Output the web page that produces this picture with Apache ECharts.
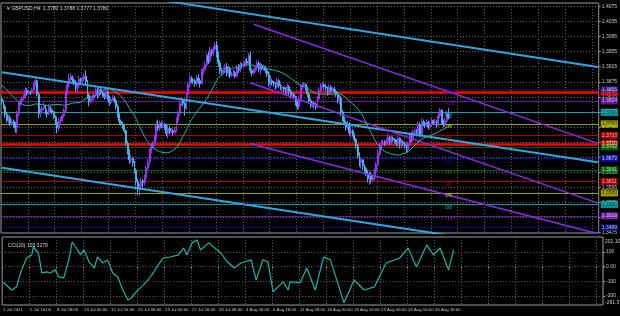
<!DOCTYPE html>
<html><head><meta charset="utf-8">
<script src="https://cdn.jsdelivr.net/npm/echarts@6/dist/echarts.min.js"></script>
<style>html,body{margin:0;padding:0;background:#000;}#c{width:620px;height:316px;}</style>
</head><body><div id="c"></div>
<script>
const chartTitle = 'GBPUSD,H4  1.3780 1.3788 1.3777 1.3780';
const cciTitle = 'CCI(20) 103.3279';
const dateLabels = ['1 Jul 2021','5 Jul 16:00','8 Jul 08:00','13 Jul 00:00','15 Jul 16:00','20 Jul 08:00','23 Jul 00:00','27 Jul 16:00','30 Jul 08:00','4 Aug 00:00','6 Aug 16:00','11 Aug 08:00','16 Aug 00:00','18 Aug 16:00','23 Aug 08:00','26 Aug 00:00','30 Aug 16:00'];
const priceTicks = [1.3475,1.3515,1.3555,1.3595,1.3635,1.3675,1.3715,1.3755,1.3795,1.3835,1.3875,1.3915,1.3955,1.3995,1.4035,1.4075];
const cciTicks = [-200,-100,0,100];
const cciRange = [-261.372, 202.1033];
const priceRange = [1.3474, 1.4084];

// lookback closes (end of June) used only for the moving average
const lookClose = [1.3925,1.3915, 1.3905,1.3898,1.3890,1.3885,1.3880,1.3882, 1.3890,1.3905,1.3918,1.3900,1.3895,1.3888, 1.3880,1.3868,1.3850,1.3825,1.3830,1.3832, 1.3838,1.3842,1.3820,1.3805,1.3825,1.3830];

const closes = [
1.3822,1.3810,1.3788,1.3772,1.3780,1.3765, 1.3770,1.3762,1.3752,1.3790,1.3815,1.3822,
1.3830,1.3838,1.3852,1.3845,1.3848,1.3846, 1.3852,1.3868,1.3878,1.3842,1.3790,1.3798,
1.3805,1.3812,1.3795,1.3790,1.3808,1.3800, 1.3795,1.3782,1.3768,1.3752,1.3770,1.3775,
1.3785,1.3798,1.3845,1.3868,1.3885,1.3888, 1.3880,1.3872,1.3858,1.3865,1.3882,1.3875,
1.3882,1.3890,1.3875,1.3840,1.3822,1.3830, 1.3832,1.3840,1.3852,1.3838,1.3855,1.3846,
1.3840,1.3836,1.3848,1.3832,1.3820,1.3828, 1.3832,1.3825,1.3810,1.3788,1.3770,1.3764,
1.3758,1.3745,1.3712,1.3690,1.3668,1.3672, 1.3660,1.3640,1.3610,1.3590,1.3598,1.3612,
1.3608,1.3622,1.3645,1.3662,1.3690,1.3702, 1.3712,1.3728,1.3760,1.3752,1.3765,1.3758,
1.3762,1.3755,1.3738,1.3752,1.3742,1.3745, 1.3740,1.3748,1.3772,1.3790,1.3818,1.3825,
1.3818,1.3805,1.3842,1.3868,1.3885,1.3880, 1.3878,1.3870,1.3885,1.3878,1.3870,1.3902,
1.3908,1.3920,1.3945,1.3930,1.3958,1.3950, 1.3962,1.3972,1.3948,1.3925,1.3905,1.3900,
1.3905,1.3915,1.3898,1.3910,1.3892,1.3895, 1.3900,1.3890,1.3912,1.3905,1.3920,1.3918,
1.3922,1.3930,1.3925,1.3945,1.3905,1.3898, 1.3905,1.3912,1.3925,1.3908,1.3918,1.3912,
1.3915,1.3905,1.3895,1.3870,1.3878,1.3872, 1.3870,1.3862,1.3878,1.3865,1.3858,1.3860,
1.3855,1.3848,1.3862,1.3850,1.3838,1.3842, 1.3835,1.3820,1.3808,1.3830,1.3860,1.3865,
1.3868,1.3858,1.3842,1.3825,1.3812,1.3818, 1.3815,1.3808,1.3830,1.3852,1.3865,1.3868,
1.3862,1.3858,1.3845,1.3860,1.3852,1.3856, 1.3850,1.3842,1.3825,1.3832,1.3795,1.3778,
1.3768,1.3755,1.3762,1.3740,1.3745,1.3735, 1.3722,1.3705,1.3680,1.3660,1.3668,1.3652,
1.3645,1.3632,1.3618,1.3630,1.3615,1.3622, 1.3638,1.3655,1.3685,1.3702,1.3712,1.3715,
1.3712,1.3718,1.3728,1.3715,1.3725,1.3722, 1.3718,1.3712,1.3725,1.3708,1.3715,1.3712,
1.3705,1.3695,1.3710,1.3732,1.3722,1.3740, 1.3745,1.3738,1.3762,1.3735,1.3768,1.3765,
1.3760,1.3768,1.3755,1.3762,1.3772,1.3766, 1.3770,1.3760,1.3785,1.3800,1.3768,1.3762,
1.3772,1.3790,1.3780,1.3780];
const highs = [
1.3834,1.3826,1.3815,1.3795,1.3788,1.3785, 1.3776,1.3775,1.3768,1.3798,1.3822,1.3830,
1.3835,1.3842,1.3860,1.3858,1.3852,1.3852, 1.3858,1.3875,1.3888,1.3880,1.3846,1.3805,
1.3810,1.3820,1.3815,1.3802,1.3816,1.3812, 1.3804,1.3798,1.3786,1.3772,1.3778,1.3782,
1.3790,1.3805,1.3852,1.3875,1.3895,1.3898, 1.3892,1.3885,1.3878,1.3872,1.3890,1.3886,
1.3888,1.3898,1.3905,1.3880,1.3845,1.3838, 1.3840,1.3845,1.3860,1.3858,1.3862,1.3858,
1.3850,1.3845,1.3855,1.3852,1.3838,1.3834, 1.3840,1.3838,1.3830,1.3815,1.3792,1.3775,
1.3768,1.3762,1.3748,1.3718,1.3695,1.3680, 1.3676,1.3665,1.3645,1.3618,1.3605,1.3620,
1.3618,1.3628,1.3652,1.3670,1.3698,1.3710, 1.3718,1.3735,1.3770,1.3775,1.3772,1.3770,
1.3768,1.3766,1.3760,1.3760,1.3758,1.3752, 1.3750,1.3755,1.3780,1.3798,1.3825,1.3832,
1.3830,1.3825,1.3848,1.3875,1.3895,1.3890, 1.3885,1.3882,1.3892,1.3895,1.3885,1.3910,
1.3915,1.3928,1.3952,1.3955,1.3968,1.3962, 1.3970,1.3980,1.3983,1.3955,1.3932,1.3912,
1.3912,1.3922,1.3925,1.3918,1.3915,1.3902, 1.3906,1.3905,1.3920,1.3922,1.3928,1.3925,
1.3928,1.3936,1.3938,1.3952,1.3955,1.3910, 1.3910,1.3918,1.3932,1.3930,1.3925,1.3922,
1.3920,1.3918,1.3912,1.3902,1.3890,1.3882, 1.3878,1.3875,1.3885,1.3882,1.3870,1.3866,
1.3864,1.3860,1.3870,1.3866,1.3855,1.3848, 1.3846,1.3838,1.3825,1.3838,1.3868,1.3872,
1.3875,1.3872,1.3862,1.3848,1.3830,1.3825, 1.3822,1.3820,1.3838,1.3860,1.3872,1.3875,
1.3872,1.3868,1.3862,1.3868,1.3866,1.3862, 1.3862,1.3855,1.3848,1.3840,1.3838,1.3800,
1.3782,1.3772,1.3772,1.3768,1.3755,1.3750, 1.3738,1.3726,1.3710,1.3688,1.3675,1.3670,
1.3656,1.3650,1.3640,1.3638,1.3636,1.3630, 1.3645,1.3662,1.3692,1.3712,1.3720,1.3722,
1.3720,1.3725,1.3738,1.3732,1.3732,1.3730, 1.3726,1.3722,1.3732,1.3728,1.3722,1.3720,
1.3715,1.3708,1.3716,1.3740,1.3742,1.3748, 1.3752,1.3750,1.3770,1.3768,1.3778,1.3775,
1.3770,1.3775,1.3772,1.3770,1.3778,1.3775, 1.3776,1.3774,1.3792,1.3806,1.3802,1.3775,
1.3780,1.3798,1.3806,1.3788];
const lows = [
1.3815,1.3803,1.3780,1.3766,1.3760,1.3758, 1.3760,1.3755,1.3740,1.3738,1.3785,1.3810,
1.3815,1.3826,1.3834,1.3838,1.3840,1.3840, 1.3843,1.3850,1.3862,1.3836,1.3778,1.3782,
1.3792,1.3800,1.3788,1.3780,1.3786,1.3795, 1.3788,1.3776,1.3760,1.3738,1.3745,1.3765,
1.3770,1.3780,1.3795,1.3840,1.3860,1.3878, 1.3872,1.3866,1.3850,1.3845,1.3858,1.3870,
1.3870,1.3876,1.3868,1.3832,1.3810,1.3818, 1.3825,1.3826,1.3835,1.3830,1.3832,1.3840,
1.3834,1.3828,1.3830,1.3826,1.3812,1.3816, 1.3825,1.3818,1.3802,1.3780,1.3762,1.3758,
1.3750,1.3738,1.3705,1.3682,1.3658,1.3660, 1.3650,1.3632,1.3600,1.3575,1.3572,1.3590,
1.3595,1.3600,1.3615,1.3640,1.3655,1.3685, 1.3698,1.3705,1.3722,1.3745,1.3745,1.3752,
1.3752,1.3748,1.3730,1.3725,1.3735,1.3738, 1.3732,1.3735,1.3742,1.3765,1.3785,1.3812,
1.3810,1.3785,1.3800,1.3835,1.3860,1.3872, 1.3870,1.3862,1.3865,1.3870,1.3860,1.3868,
1.3895,1.3902,1.3915,1.3922,1.3925,1.3942, 1.3945,1.3955,1.3940,1.3915,1.3895,1.3892,
1.3895,1.3900,1.3890,1.3888,1.3885,1.3888, 1.3890,1.3884,1.3886,1.3898,1.3900,1.3910,
1.3912,1.3915,1.3918,1.3920,1.3898,1.3890, 1.3895,1.3900,1.3905,1.3900,1.3895,1.3905,
1.3905,1.3898,1.3888,1.3862,1.3860,1.3866, 1.3862,1.3855,1.3858,1.3858,1.3852,1.3852,
1.3848,1.3840,1.3842,1.3840,1.3830,1.3834, 1.3828,1.3812,1.3800,1.3802,1.3825,1.3855,
1.3860,1.3852,1.3835,1.3818,1.3805,1.3808, 1.3806,1.3800,1.3805,1.3826,1.3848,1.3860,
1.3855,1.3850,1.3838,1.3840,1.3845,1.3848, 1.3845,1.3835,1.3818,1.3815,1.3785,1.3770,
1.3760,1.3745,1.3748,1.3732,1.3728,1.3730, 1.3715,1.3698,1.3672,1.3650,1.3645,1.3642,
1.3636,1.3625,1.3608,1.3602,1.3605,1.3610, 1.3615,1.3632,1.3650,1.3678,1.3695,1.3705,
1.3705,1.3706,1.3710,1.3708,1.3708,1.3715, 1.3712,1.3705,1.3702,1.3698,1.3700,1.3705,
1.3698,1.3686,1.3688,1.3705,1.3715,1.3718, 1.3735,1.3730,1.3735,1.3728,1.3732,1.3758,
1.3752,1.3755,1.3748,1.3750,1.3756,1.3760, 1.3760,1.3752,1.3755,1.3778,1.3760,1.3755,
1.3756,1.3766,1.3775,1.3777];

// CCI read from the lower window: bar index and value
const cciIdx = [0,2,5,8,11,14,17,18,21,23, 26,28,31,33,36,39,41,43,46,48, 51,54,56,59,62,65,68,71,74,76, 79,82,86,89,92,95,99,104,107,109, 112,115,117,122,129,133,137,141,147,150, 154,157,160,166,169,170,176,180,185,190, 194,202,208,214,220,227,235,240,245,251, 255,259,264,267];
const cciVal = [-104,-125,-159,-138,-22,59,80,134,93,-43, -36,-43,-22,-70,-77,46,168,134,80,114, 32,-9,66,25,46,-43,-70,-159,-227,-213, -172,-138,-91,-43,12,59,66,80,127,80, 162,182,114,162,93,32,-9,25,46,-91, 46,32,-172,-104,-159,-104,-111,-9,-159,66, 46,-247,-91,-159,-138,25,59,127,-2,148, 80,127,-22,114];

// Murrey math levels
const mmNames  = ['+2/8','+1/8','8/8','7/8','6/8','5/8','4/8','3/8','2/8','1/8','0/8','-1/8','-2/8'];
const mmValues = [1.3854980,1.3824463,1.3793945,1.3763428,1.3732910,1.3702393,1.3671875,1.3641357,1.3610840,1.3580322,1.3549805,1.3519287,1.3488770];
const redLevels = [1.3848, 1.3710];
const bidPrice = 1.3780;
// trend channel lines [barIndex, price]
const blueTop = [[98, 1.4089],[355, 1.39145]];
const blueMid = [[0, 1.39002],[355, 1.36615]];
const blueLow = [[0, 1.36469],[355, 1.34081]];
const purpleTop = [[150, 1.40278],[355, 1.37116]];
const purpleMid = [[148, 1.38726],[355, 1.35532]];
const purpleLow = [[148, 1.37108],[355, 1.34718]];
const MA_PERIOD = 26;

// ---------- styles ----------
const mmColor = {'+2/8':'#12129a','+1/8':'#9020d8','8/8':'#00dede','7/8':'#e0e000','6/8':'#ee0000','5/8':'#008a00','4/8':'#1010ee','3/8':'#008a00','2/8':'#ee0000','1/8':'#e0e000','0/8':'#00dede','-1/8':'#9020d8','-2/8':'#12129a'};
const darkText = {'8/8':1,'7/8':1,'1/8':1,'0/8':1};
const FONT = "'Liberation Sans Narrow','Liberation Sans',sans-serif";
const AX = '#c8c8c8';
const GRIDC = '#5e5e5e';
const SLOTS = 356, STEP = 16, FS = 5, FSX = 4.3;

const LB = lookClose.length;
const allC = lookClose.concat(closes);
const candles = closes.map((c,i)=>[allC[LB+i-1], c, lows[i], highs[i]]);
const ma = closes.map((c,i)=>{let s=0;for(let k=0;k<MA_PERIOD;k++)s+=allC[LB+i-k];return s/MA_PERIOD;});
const cciData = cciIdx.map((x,i)=>[x,cciVal[i]]);
const cats = Array.from({length:SLOTS},(_,i)=>i);
const tickFn = (i)=> i%STEP===0;

function boxLabel(text,bg,fg){return {show:true,position:'end',distance:2,formatter:text,backgroundColor:bg,color:fg,fontSize:FS,fontFamily:FONT,padding:[1,1,0,1],lineHeight:6};}
const mlData = [];
redLevels.forEach(v=>mlData.push({yAxis:v,lineStyle:{color:'#ff0000',width:2.5,type:'solid'},label:boxLabel(v.toFixed(4),'#ee0000','#fff')}));
mmNames.forEach((n,i)=>mlData.push({yAxis:mmValues[i],lineStyle:{color:mmColor[n],width:1,type:'solid',opacity:0.7},label:boxLabel(mmValues[i].toFixed(4),mmColor[n],darkText[n]?'#000':'#fff')}));
mlData.push({yAxis:bidPrice,lineStyle:{opacity:0,width:0},label:boxLabel(bidPrice.toFixed(4),'#ffffff','#000')});

function tline(data,color,width){return {type:'line',xAxisIndex:0,yAxisIndex:0,data:data,showSymbol:false,symbol:'none',clip:true,silent:true,lineStyle:{color:color,width:width},z:7};}

const chart = echarts.init(document.getElementById('c'),null,{renderer:'canvas'});
chart.setOption({
  animation:false,
  backgroundColor:'#000',
  title:[
    {text:'\u25BE '+chartTitle,left:2,top:1,textStyle:{color:'#d8d8d8',fontSize:FS,fontWeight:'normal',fontFamily:FONT}},
    {text:cciTitle,left:3,top:238,textStyle:{color:'#d8d8d8',fontSize:FS,fontWeight:'normal',fontFamily:FONT}}
  ],
  grid:[
    {left:1,top:3,width:602,height:230,show:true,borderColor:'#9a9a9a',borderWidth:1,backgroundColor:'transparent'},
    {left:1,top:237,width:602,height:68,show:true,borderColor:'#9a9a9a',borderWidth:1,backgroundColor:'transparent'}
  ],
  xAxis:[
    {type:'category',gridIndex:0,data:cats,boundaryGap:true,axisLine:{show:false},axisTick:{show:false},axisLabel:{show:false},
     splitLine:{show:true,interval:tickFn,lineStyle:{color:GRIDC,type:[1,2],width:1}}},
    {type:'category',gridIndex:1,data:cats,boundaryGap:true,axisLine:{show:false},
     axisTick:{show:true,interval:tickFn,length:2,lineStyle:{color:'#9a9a9a'}},
     axisLabel:{show:true,interval:tickFn,align:'left',margin:3,color:AX,fontSize:FSX,fontFamily:FONT,
       formatter:(v)=>{const k=Number(v)/STEP;return dateLabels[k]||'';}},
     splitLine:{show:true,interval:tickFn,lineStyle:{color:GRIDC,type:[1,2],width:1}}}
  ],
  yAxis:[
    {type:'value',gridIndex:0,position:'right',min:priceRange[0],max:priceRange[1],
     axisLine:{show:false},axisTick:{show:true,customValues:priceTicks,length:2,lineStyle:{color:'#9a9a9a'}},
     axisLabel:{show:true,customValues:priceTicks,margin:3,color:AX,fontSize:FS,fontFamily:FONT,formatter:(v)=>Number(v).toFixed(4)},
     splitLine:{show:true,lineStyle:{color:GRIDC,type:[1,2],width:1}}},
    {type:'value',gridIndex:1,position:'right',min:cciRange[0],max:cciRange[1],
     axisLine:{show:false},axisTick:{show:true,customValues:cciTicks,length:2,lineStyle:{color:'#9a9a9a'}},
     axisLabel:{show:true,customValues:cciTicks,margin:3,color:AX,fontSize:FS,fontFamily:FONT,formatter:(v)=>v===0?'0.00':String(v)},
     splitLine:{show:true,lineStyle:{color:GRIDC,type:[1,2],width:1}}}
  ],
  graphic:[
    {type:'text',left:605,top:239,style:{text:cciRange[1].toFixed(4),fill:AX,fontSize:FS,fontFamily:FONT}},
    {type:'text',left:605,top:300,style:{text:cciRange[0].toFixed(3),fill:AX,fontSize:FS,fontFamily:FONT}}
  ],
  series:[
    tline(blueTop,'#2fa8e0',2),
    tline(blueMid,'#2fa8e0',2),
    tline(blueLow,'#2fa8e0',2),
    tline(purpleTop,'#8a2be2',1.5),
    tline(purpleMid,'#8a2be2',1.5),
    tline(purpleLow,'#8a2be2',1.5),
    {type:'candlestick',xAxisIndex:0,yAxisIndex:0,data:candles,barWidth:1.4,z:5,silent:true,
     itemStyle:{color:'#9a30f0',color0:'#40b4e8',borderColor:'#9a30f0',borderColor0:'#40b4e8',borderWidth:1}},
    {type:'line',xAxisIndex:0,yAxisIndex:0,data:ma,showSymbol:false,symbol:'none',clip:false,silent:true,z:8,
     lineStyle:{color:'#20b2aa',width:1},
     markLine:{symbol:['none','none'],precision:6,silent:true,animation:false,data:mlData}},
    {type:'scatter',xAxisIndex:0,yAxisIndex:0,symbolSize:0,silent:true,z:9,
     data:mmValues.map((v,i)=>({value:[264,v],label:{show:true,position:'right',distance:0,offset:[0,3],formatter:mmNames[i],color:mmColor[mmNames[i]],fontSize:FS,fontFamily:FONT}}))},
    {type:'line',xAxisIndex:1,yAxisIndex:1,data:cciData,showSymbol:false,symbol:'none',silent:true,
     lineStyle:{color:'#20b2aa',width:1.2}}
  ]
});
</script></body></html>
